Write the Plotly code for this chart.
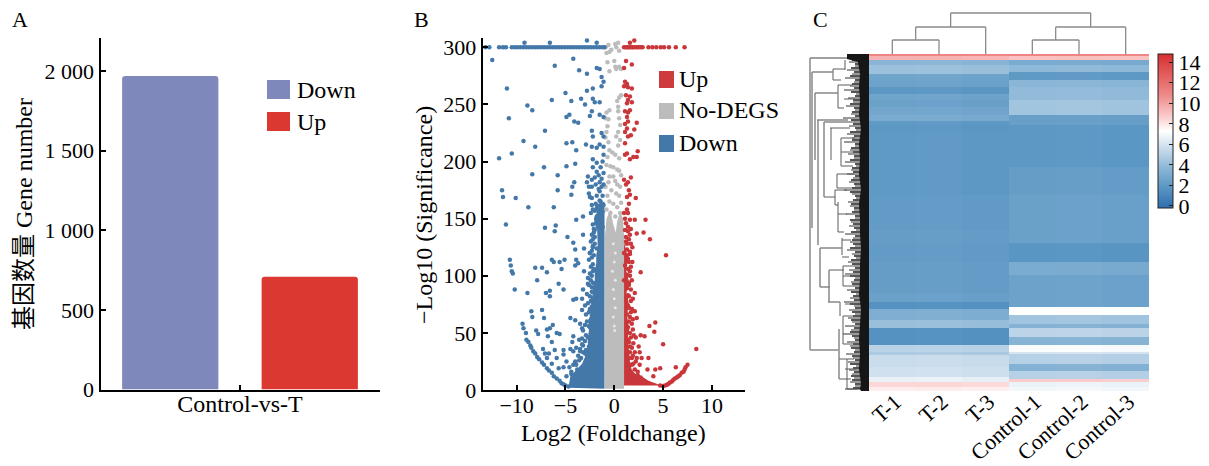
import plotly.graph_objects as go

W, H = 1209, 466
SERIF = "Liberation Serif, Noto Sans CJK SC, serif"
FS = 22
FT = 24

# ---------- Panel A ----------
bar_x = [0.5, 1.5]
bar_names = ["Down", "Up"]
bar_values = [1968, 708]
bar_colors = ["#7f88ba", "#dc3832"]
a_ytick_vals = [0, 500, 1000, 1500, 2000]
a_ytick_text = ["0", "500", "1 000", "1 500", "2 000"]

# ---------- Panel B: volcano ----------
top_down_x = [-13.2, -12.8, -11.8, -11.4, -11.1, -10.5, -10.2, -9.9, -9.6, -9.3, -9.0, -8.7, -8.4, -8.1, -7.8, -7.5,
              -7.2, -6.9, -6.6, -6.3, -6.0, -5.7, -5.4, -5.1, -4.8, -4.5, -4.2, -3.9, -3.6, -3.3, -3.0, -2.7, -2.4,
              -2.1, -1.8, -1.5, -1.2, -1.0]
top_up_x = [1.0, 1.2, 1.3, 1.5, 1.6, 1.8, 1.9, 2.1, 2.3, 2.5, 2.7, 2.9, 3.5, 3.9, 4.3, 4.75, 5.1, 5.6, 6.3, 7.2]
top_y = 300

down_x = [-9.2, -6.6, -2.8, -1.8, -12.5, -11.0, -6.1, -4.2, -3.6, -2.8, -1.8, -1.5, -1.3, -1.1, -1.3, -2.2, -2.8, -5.0, -6.4, -4.4, -3.4, -3.0, -2.2, -2.0, -1.5,
          -8.9, -8.4, -10.8, -4.9, -4.6, -4.1, -3.7, -2.3, -2.5, -1.5, -1.1, -7.1, -2.3, -2.2, -1.3, -1.1, -9.3, -8.1, -4.9, -4.3,
          -2.9, -3.9, -2.3, -1.5, -1.8, -1.1, -11.8, -10.5, -7.2, -4.9, -4.0, -2.2, -1.1, -8.4, -5.8, -2.7, -1.8, -1.1, -4.1, -4.3,
          -2.8, -1.5, -1.1, -2.3, -11.5, -5.8, -4.4, -1.5, -11.4, -10.1, -2.5, -1.5, -8.8, -6.2, -2.3, -1.8, -1.3, -2.2, -1.5, -3.9,
          -3.2, -1.8, -1.5, -11.1, -6.0, -7.1, -6.1,
          -4.8, -3.2, -4.2, -4.0, -3.1, -2.5, -2.2, -1.8, -10.7, -10.6, -10.5, -10.4, -10.2, -8.9, -8.1, -7.4, -6.9, -7.9, -6.4, -6.2,
          -5.6, -5.1, -5.4, -3.9, -4.0, -3.7, -3.1, -5.7, -5.2, -7.0, -6.6, -6.6, -8.5, -8.4, -7.4, -7.2, -3.2, -2.7, -2.3, -4.2, -3.9,
          -3.3, -3.0, -3.3, -4.5, -4.0, -3.5, -3.0, -2.5, -3.3, -6.3, -6.6, -6.9, -8.0, -7.8, -6.8, -6.4, -5.9, -5.6, -4.2, -4.3, -3.3,
          -3.2, -7.3, -7.1, -6.7, -6.1, -5.2, -4.5, -4.2, -3.5, -3.0, -6.9, -6.4, -5.9, -5.2, -4.9, -4.0, -3.9, -5.7, -5.2, -4.4, -4.9,
          -9.4, -9.3, -9.05, -9.0, -8.8, -8.6, -8.5, -8.3, -8.1, -7.9, -7.7, -7.4, -7.2, -6.9, -6.7, -6.4, -6.2, -5.9, -5.6, -5.4, -5.2, -5.0, -4.7]
down_y = [304, 304, 306, 304, 289, 264, 284, 290, 280, 277, 282, 281, 274, 270, 266, 264, 262, 260, 254, 253, 255, 250, 255, 252, 252,
          249, 245, 238, 239, 241, 235, 234, 244, 240, 241, 239, 227, 227, 222, 225, 222, 218, 213, 216, 217,
          215, 210, 213, 215, 212, 213, 203, 207, 195, 196, 198, 202, 206, 189, 188, 187, 191, 190, 182, 178,
          182, 182, 180, 178, 175, 175, 171, 174, 169, 168, 169, 166, 160, 160, 162, 159, 159, 158, 155, 149,
          152, 152, 149, 145, 144, 142, 139,
          134, 136, 129, 123, 124, 120, 125, 124, 114, 109, 104, 102, 88, 85, 107, 107, 103, 96, 114, 112,
          112, 114, 106, 114, 109, 111, 104, 93, 88, 85, 87, 82, 69, 64, 70, 63, 88, 93, 90, 79, 80,
          80, 74, 70, 63, 61, 58, 57, 55, 54, 57, 54, 53, 52, 49, 47, 42, 50, 49, 47, 42, 45,
          39, 36, 32, 32, 35, 35, 36, 34, 34, 32, 28, 23, 28, 31, 25, 25, 22, 19, 20, 16, 12,
          58, 54, 50, 44, 42, 39, 37, 34, 32, 29, 27, 24, 22, 19, 17, 15, 12, 10, 8, 6, 5, 4, 3]
down_edge_x = [-4.6, -4.2, -3.8, -4.4, -3.6, -3.4, -4.0, -3.7, -3.2, -2.9, -3.5, -3.1, -2.8, -3.9, -3.3, -2.6, -3.0, -2.7, -2.5, -2.9,
               -2.4, -3.2, -2.6, -3.6, -2.8, -2.4, -2.3, -2.6, -2.9, -2.5, -2.3, -2.7, -2.4, -2.2, -2.5, -2.8, -2.3, -2.6, -2.2, -2.4,
               -2.7, -2.3, -2.5, -2.2, -2.1, -2.4, -2.2, -2.6, -2.3, -2.1, -2.5, -2.3, -2.2, -2.0, -2.4, -2.2, -2.0, -2.3, -2.1, -2.0,
               -2.2, -1.9, -1.6, -1.3, -2.1, -1.7, -1.2, -2.4, -2.0, -1.6, -1.2, -1.9, -1.4, -1.1, -2.3, -1.8, -1.2, -2.6, -1.6, -1.9,
               -1.3, -2.3, -2.0, -1.6, -1.3, -2.6, -2.2, -1.4, -1.8, -1.2]
down_edge_y = [20, 22, 18, 14, 26, 28, 24, 30, 33, 35, 36, 15, 30, 37, 40, 38, 43, 46, 42, 48,
               50, 52, 56, 44, 60, 62, 65, 68, 66, 71, 73, 76, 78, 80, 82, 84, 86, 92, 94, 96,
               98, 100, 102, 104, 106, 108, 110, 114, 116, 118, 120, 122, 126, 128, 130, 132, 134, 136, 138, 140,
               145, 146, 147, 148, 141, 143, 143, 155, 157, 160, 156, 163, 165, 162, 168, 170, 170, 172, 176, 180,
               185, 184, 186, 188, 178, 178, 195, 195, 199, 200]

up_x = [1.6, 2.05, 1.2, 1.8, 1.0, 1.1, 1.3, 1.0, 1.8, 1.4, 1.2, 1.6, 1.4, 1.8, 1.3, 1.6, 1.1, 1.4, 1.3, 1.4, 2.3, 1.1, 1.3, 2.05,
        1.1, 1.4, 1.7, 1.1, 2.4, 1.95, 1.3, 1.6, 1.1, 2.3, 1.0, 1.7, 1.4, 1.2, 1.5, 1.6, 2.2, 1.3, 1.5, 1.3, 1.0, 1.4, 1.1, 1.6, 2.1,
        3.2, 1.2, 1.4, 2.3, 3.0, 3.65, 1.6, 1.2, 1.85, 1.3, 1.6, 1.0, 5.3, 1.4, 1.85, 1.1, 2.7, 1.6, 1.3, 1.0, 1.5, 1.3, 2.1, 1.4, 1.2,
        1.8, 2.1, 1.4, 2.3, 1.6, 1.3, 1.4, 1.9, 1.3, 4.2, 3.6, 4.1, 2.2, 2.7, 3.1, 1.4, 1.95, 5.0, 8.4, 2.5, 1.6, 2.1, 2.6, 2.8, 3.5,
        1.8, 1.95, 2.6, 1.6, 3.4, 4.2, 4.7, 6.3, 4.0,
        4.7, 5.0, 5.2, 5.4, 5.55, 5.7, 5.9, 6.05, 6.2, 6.4, 6.55, 6.7, 6.9, 7.1, 7.2, 7.3, 7.5,
        1.6, 2.0, 2.4, 2.7, 1.7, 2.1, 2.4, 1.8, 2.2, 1.5, 1.9, 2.3, 1.6, 1.8, 1.5, 1.7, 2.0, 1.6, 1.8, 1.5, 1.9, 1.7, 1.5, 1.7, 1.9,
        1.5, 1.7, 1.5, 1.8, 1.6, 1.4, 1.7, 1.5, 1.3, 1.6, 1.3, 1.5, 1.7, 1.2, 1.4, 1.1, 1.7]
up_y = [304, 306, 288, 285, 282, 270, 268, 266, 264, 265, 258, 257, 254, 252, 251, 245, 244, 243, 239, 235, 234, 233, 229, 228,
        226, 222, 223, 216, 209, 204, 207, 202, 206, 204, 184, 186, 182, 180, 175, 171, 168, 169, 163, 158, 155, 155, 150, 149, 149,
        149, 146, 143, 137, 138, 132, 136, 130, 125, 123, 121, 120, 118, 115, 112, 109, 103, 104, 101, 96, 94, 89, 85, 83, 80,
        71, 69, 74, 63, 64, 66, 55, 53, 53, 59, 56, 51, 46, 48, 47, 44, 41, 40, 36, 38, 38, 33, 33, 28, 28,
        28, 23, 22, 22, 18, 18, 19, 20, 12,
        4, 3.5, 4, 4.5, 5.5, 6.5, 7.5, 9, 10, 11, 12, 13, 15, 16, 18, 20, 22,
        10, 12, 13, 11, 16, 18, 16, 22, 25, 28, 30, 28, 33, 37, 42, 46, 48, 50, 58, 60, 62, 68, 72, 78, 80,
        82, 88, 92, 96, 100, 106, 108, 112, 118, 119, 128, 132, 128, 134, 139, 140, 141]

grey_x = [-0.8, -0.3, 0.2, 0.5, -0.5, 0.4, -0.9, 0.1, -0.6, -0.7, 0.0, 0.1, -0.5, 0.2, 0.7, 0.5, 0.5, 0.3, 0.7, 0.4, -0.8, -0.5, 0.4, -0.9,
          -0.6, 0.5, 0.6, -0.7, -0.8, 0.4, -0.9, 0.2, 0.6, -0.6, 0.4, -0.5, -0.2, 0.1, -0.7, 0.5, -0.8, -0.4, -0.1, 0.3, 0.5, 0.7, -0.5,
          -0.1, 0.1, -0.6, 0.3, -0.9, 0.6, -0.3, 0.2, -0.7, 0.5, -0.5, 0.7, -0.1, 0.3, -0.8, -0.4, 0.6, 0.1]
grey_y = [295, 298, 300, 297, 296, 304, 300, 303, 302, 287, 288, 283, 279, 281, 281, 283, 256, 253, 258, 248, 243, 245, 244, 238,
          237, 238, 232, 231, 226, 226, 221, 222, 219, 217, 214, 210, 208, 206, 204, 203, 197, 196, 195, 193, 192, 188, 187,
          187, 183, 182, 180, 178, 178, 175, 172, 170, 170, 165, 164, 163, 160, 158, 155, 155, 152]
pale_x = [-0.1, 0.1, 0.0, -0.2, 0.1, -0.1, 0.0, 0.1, -0.1, 0.0, 0.05]
pale_y = [128, 120, 112, 104, 96, 88, 80, 72, 64, 56, 52]

# outlines of the saturated regions of the volcano
down_fill_x = [-1.0, -4.7, -4.5, -3.9, -3.3, -3.0, -2.7, -2.7, -2.6, -2.6, -2.4, -2.4, -2.25, -2.2, -2.0, -2.0, -1.85, -1.85, -1.7, -1.75, -2.1, -1.8, -2.0, -1.0, -1.0]
down_fill_y = [1, 2, 12, 17.5, 23, 29, 38, 45, 52, 60, 67, 75, 82, 90, 96, 104, 111, 118, 125, 140, 150, 155, 162, 165, 1]
grey_fill_x = [-0.95, 1.0, 1.0, 0.9, 0.6, 0.3, 0.15, -0.1, -0.4, -0.8, -0.95, -0.95]
grey_fill_y = [1, 1, 135, 150, 156, 148, 138, 145, 158, 150, 135, 1]
up_fill_x = [1.0, 4.8, 4.2, 3.5, 3.0, 2.2, 1.8, 1.6, 1.5, 1.4, 1.5, 1.3, 1.5, 1.25, 1.5, 1.2, 1.4, 1.15, 1.0, 1.0]
up_fill_y = [4, 4, 6, 8, 11, 14, 17, 25, 35, 45, 55, 65, 75, 85, 95, 105, 115, 125, 130, 4]
b_xticks = [-10, -5, 0, 5, 10]
b_xtick_text = ["\u221210", "\u22125", "0", "5", "10"]
b_yticks = [0, 50, 100, 150, 200, 250, 300]

# ---------- Panel C: heatmap ----------
samples = ["T-1", "T-2", "T-3", "Control-1", "Control-2", "Control-3"]
row_edges = [0, 2, 6, 11, 18, 20, 26, 33, 40, 46, 53, 61, 67, 71, 79, 113, 141, 176, 189, 208, 221, 239, 248, 253, 255, 261,
             266, 270, 274, 283, 291, 298, 300, 301, 310, 313, 317, 323, 325, 328, 333, 337]
t_vals = [11.0, 9.5, 3.6, 4.2, 4.2, 2.6, 2.5, 1.9, 2.6, 2.4, 2.7, 3.0, 2.0, 1.9, 2.0, 2.0, 2.1, 2.2, 2.1, 2.2, 2.2, 2.4, 1.6, 1.6,
          3.2, 3.2, 4.1, 4.1, 1.6, 1.6, 5.1, 4.7, 4.7, 5.6, 5.6, 5.8, 5.8, 6.6, 6.6, 8.4, 7.8]
c_vals = [11.0, 9.0, 3.0, 3.8, 2.0, 2.0, 3.6, 3.9, 3.9, 4.4, 4.4, 2.3, 2.3, 1.9, 1.9, 2.2, 2.4, 2.4, 1.8, 3.0, 2.5, 2.5, 2.5, 7.3,
          7.3, 4.4, 4.4, 3.4, 5.2, 3.5, 7.1, 6.0, 5.0, 5.0, 3.4, 3.4, 5.0, 5.0, 8.7, 6.7, 6.9]
column_shift = [0.0, 0.05, -0.08, 0.0, 0.05, -0.05]
heat_stops = [[0, "#2f6daf"], [0.133, "#5a96c3"], [0.267, "#8fb9d8"], [0.4, "#d0e0ee"], [0.5, "#ffffff"],
              [0.6, "#fbc8c8"], [0.733, "#ee8a8a"], [1, "#d82f2f"]]
cbar_ticks = [0, 2, 4, 6, 8, 10, 12, 14]

# column dendrogram: (x0, h0, x1, h1) in column index / height units
col_dend = [(0, 0, 0, 14), (1, 0, 1, 14), (0, 14, 1, 14), (0.5, 14, 0.5, 27), (2, 0, 2, 27), (0.5, 27, 2, 27),
            (1.25, 27, 1.25, 41), (3, 0, 3, 14), (4, 0, 4, 14), (3, 14, 4, 14), (3.5, 14, 3.5, 27), (5, 0, 5, 27),
            (3.5, 27, 5, 27), (4.25, 27, 4.25, 41), (1.25, 41, 4.25, 41)]

# row dendrogram: (d0, r0, d1, r1) distance from leaves / row units
row_dend_major = [(59, 4, 22, 4), (59, 4, 59, 296), (59, 296, 31, 296), (57, 18, 36, 18), (57, 18, 57, 174), (54, 39, 31, 39),
                  (54, 39, 54, 106), (52, 66, 21, 66), (51, 66, 51, 191), (45, 68, 14, 68), (45, 68, 45, 143), (49, 194, 27, 194),
                  (49, 194, 49, 233), (49, 233, 39, 233), (40, 216, 40, 248), (41, 248, 29, 248), (30, 275, 30, 325)]
row_dend_minor = [(39, 74, 19, 74), (38, 74, 38, 106), (36, 15, 24, 15), (36, 26, 28, 26), (36, 15, 36, 26), (31, 31, 17, 31),
                  (31, 54, 25, 54), (31, 31, 31, 54), (24, 6, 24, 16), (45, 143, 34, 143), (34, 136, 34, 151), (34, 136, 22, 136),
                  (34, 151, 31, 151), (31, 148, 31, 178), (31, 178, 25, 178), (31, 160, 22, 160), (27, 184, 27, 201),
                  (27, 186, 18, 186), (27, 203, 20, 203), (40, 216, 25, 216), (26, 262, 26, 290), (26, 262, 12, 262),
                  (26, 290, 14, 290), (30, 325, 18, 325), (30, 305, 15, 305), (22, 305, 22, 335), (24, 250, 12, 250),
                  (29, 248, 29, 262), (28, 98, 15, 98), (28, 84, 28, 112), (28, 84, 14, 84), (28, 112, 16, 112),
                  (32, 120, 32, 134), (32, 120, 15, 120), (32, 134, 17, 134), (26, 222, 14, 222), (26, 212, 26, 232),
                  (26, 212, 15, 212), (26, 232, 16, 232), (25, 45, 14, 45), (24, 315, 13, 315), (22, 335, 12, 335)]
leaf_rows = [4, 8, 12, 16, 20, 24, 28, 32, 36, 40, 44, 48, 52, 56, 60, 64, 68, 72, 76, 80, 84, 88, 92, 96, 100, 104, 108, 112,
             116, 120, 124, 128, 132, 136, 140, 144, 148, 152, 156, 160, 164, 168, 172, 176, 180, 184, 188, 192, 196, 200, 204,
             208, 212, 216, 220, 224, 228, 232, 236, 240, 244, 248, 252, 256, 260, 264, 268, 272, 276, 280, 284, 288, 292, 296,
             300, 304, 308, 312, 316, 320, 324, 328, 332, 335]
leaf_lengths = [22, 20, 14, 22, 17, 24, 15, 19, 25, 13, 21, 16, 23, 14, 18, 26, 15, 20, 13, 22, 17, 25, 14, 19, 21, 15, 24, 13,
                18, 22, 16, 20, 14, 25, 17, 13, 21, 19, 15, 23, 14, 18, 20, 13, 24, 16, 19, 14, 22, 17, 13, 21, 15, 20, 24, 14,
                18, 16, 22, 13, 19, 25, 15, 20, 14, 21, 17, 24, 18, 26, 15, 22, 19, 14, 23, 16, 21, 13, 20, 17, 15, 19, 14, 24]
fine_rows = [6, 10, 14, 18, 22, 26, 30, 34, 38, 42, 46, 50, 54, 58, 62, 66, 70, 74, 78, 82, 86, 90, 94, 98, 102, 106, 110, 114,
             118, 122, 126, 130, 134, 138, 142, 146, 150, 154, 158, 162, 166, 170, 174, 178, 182, 186, 190, 194, 198, 202, 206,
             210, 214, 218, 222, 226, 230, 234, 238, 242, 246, 250, 254, 258, 262, 266, 270, 274, 278, 282, 286, 290, 294, 298,
             302, 306, 310, 314, 318, 322, 326, 330, 334]
fine_lengths = [17, 14, 18, 15, 19, 14, 17, 15, 18, 14, 16, 19, 15, 17, 14, 18, 16, 14, 19, 15, 17, 14, 18, 16, 15, 19, 14, 17,
                16, 14, 18, 15, 17, 19, 14, 16, 18, 15, 17, 14, 19, 16, 15, 18, 14, 17, 16, 19, 14, 15, 18, 17, 14, 16, 19, 15,
                17, 14, 18, 16, 15, 19, 14, 17, 16, 18, 14, 15, 19, 17, 14, 16, 18, 15, 17, 14, 19, 16, 15, 18, 17, 14, 16]
dense_edge_d = [22, 22, 11, 9, 10, 9, 10, 8, 10, 9, 10, 8, 10, 9, 9, 8, 9, 9, 10, 8, 9, 10, 9, 10, 8, 9, 8]
dense_edge_r = [0, 5, 8, 20, 33, 46, 60, 75, 90, 105, 120, 135, 150, 165, 180, 195, 210, 225, 240, 255, 270, 285, 300, 315, 330, 335, 337]

A_X = (100.5, 379.5); A_Y = (38, 389.5)
B_X = (482.7, 745); B_Y = (38, 390)
C_X = (869, 1149); C_Y = (54, 391)
T_Y = (10, 54)
L_X = (805, 869)


def xdom(p):
    return [p[0] / W, p[1] / W]


def ydom(p):
    return [1 - p[1] / H, 1 - p[0] / H]


def segs(items):
    xs, ys = [], []
    for a, b, c, d in items:
        xs += [a, c, None]
        ys += [b, d, None]
    return xs, ys


fig = go.Figure()

# A
fig.add_trace(go.Bar(x=bar_x, y=bar_values, width=0.69, marker=dict(color=bar_colors, line=dict(width=0)),
                     xaxis="x", yaxis="y", showlegend=False))

# B
def dots(x, y, color, size=4.5):
    fig.add_trace(go.Scatter(x=x, y=y, mode="markers", xaxis="x2", yaxis="y2", showlegend=False,
                             marker=dict(color=color, size=size, line=dict(width=0))))


def region(x, y, color):
    fig.add_trace(go.Scatter(x=x, y=y, mode="lines", fill="toself", fillcolor=color, xaxis="x2", yaxis="y2",
                             line=dict(width=0, color=color), showlegend=False, hoverinfo="skip"))


BLUE, RED, GREY = "#4478a9", "#c9373b", "#bcbcbc"
region(grey_fill_x, grey_fill_y, GREY)
region(down_fill_x, down_fill_y, BLUE)
region(up_fill_x, up_fill_y, RED)
dots(grey_x, grey_y, GREY)
dots(pale_x, pale_y, "#e6e6e6", 3)
dots(down_x, down_y, BLUE)
dots(down_edge_x, down_edge_y, BLUE)
dots(up_x, up_y, RED)
dots(top_down_x, [top_y] * len(top_down_x), BLUE)
dots(top_up_x, [top_y] * len(top_up_x), RED)

# C heatmap
z = []
for tv, cv in zip(t_vals, c_vals):
    base = [tv, tv, tv, cv, cv, cv]
    z.append([b + s for b, s in zip(base, column_shift)])
fig.add_trace(go.Heatmap(x=list(range(6)), y=row_edges, z=z, zmin=-0.2, zmax=14.8, colorscale=heat_stops, xaxis="x3", yaxis="y3",
                         colorbar=dict(thickness=15, thicknessmode="pixels", len=154 / H, lenmode="fraction", x=1158 / W,
                                       xanchor="left", y=1 - 54 / H, yanchor="top", xpad=0, ypad=0, outlinecolor="#222",
                                       outlinewidth=1, tickvals=cbar_ticks, ticks="inside", ticklen=4, tickcolor="#222",
                                       tickfont=dict(family=SERIF, size=FS, color="black"))))

# dendrograms
xs, ys = segs(col_dend)
fig.add_trace(go.Scatter(x=xs, y=ys, mode="lines", xaxis="x4", yaxis="y4", showlegend=False, hoverinfo="skip",
                         line=dict(color="#8a8a8a", width=1.3)))
xs, ys = segs([(d, r, 0, r) for d, r in zip(leaf_lengths, leaf_rows)])
fig.add_trace(go.Scatter(x=xs, y=ys, mode="lines", xaxis="x5", yaxis="y5", showlegend=False, hoverinfo="skip",
                         line=dict(color="#555555", width=1.2)))
xs, ys = segs([(d, r, 0, r) for d, r in zip(fine_lengths, fine_rows)])
fig.add_trace(go.Scatter(x=xs, y=ys, mode="lines", xaxis="x5", yaxis="y5", showlegend=False, hoverinfo="skip",
                         line=dict(color="#2a2a2a", width=1.6)))
xs, ys = segs(row_dend_minor)
fig.add_trace(go.Scatter(x=xs, y=ys, mode="lines", xaxis="x5", yaxis="y5", showlegend=False, hoverinfo="skip",
                         line=dict(color="#5c5c5c", width=1)))
xs, ys = segs(row_dend_major)
fig.add_trace(go.Scatter(x=xs, y=ys, mode="lines", xaxis="x5", yaxis="y5", showlegend=False, hoverinfo="skip",
                         line=dict(color="#808080", width=1.4)))
fig.add_trace(go.Scatter(x=dense_edge_d + [0, 0], y=dense_edge_r + [337, 0], mode="lines", fill="toself", fillcolor="#161616",
                         line=dict(width=0), xaxis="x5", yaxis="y5", showlegend=False, hoverinfo="skip"))

font = dict(family=SERIF, size=FS, color="black")
tfont = dict(family=SERIF, size=FT, color="black")
axis_common = dict(showgrid=False, zeroline=False, showline=True, linecolor="black", linewidth=2, ticks="inside",
                   ticklen=5, tickwidth=1.5, tickcolor="black", tickfont=font, automargin=False)
hidden = dict(visible=False, showgrid=False, zeroline=False, automargin=False)

annotations = []


def label(x, y, text, size=FT, anchor="left", angle=0):
    annotations.append(dict(x=x / W, y=1 - y / H, xref="paper", yref="paper", text=text, showarrow=False, xanchor=anchor,
                            yanchor="middle", textangle=angle, font=dict(family=SERIF, size=size, color="black")))


label(10, 20, "A", FS); label(412, 20, "B", FS); label(811, 20, "C", FS)
label(24, 214, "基因数量 Gene number", FT, "center", -90)
label(424, 215, "\u2212Log10 (Significance)", FT, "center", -90)
label(613, 433, "Log2 (Foldchange)", FT, "center")
shapes = []


def swatch(x0, x1, y0, y1, color, text, tx, dy):
    shapes.append(dict(type="rect", xref="paper", yref="paper", x0=x0 / W, x1=x1 / W, y0=1 - y0 / H, y1=1 - y1 / H,
                       fillcolor=color, line=dict(width=0)))
    label(tx, (y0 + y1) / 2 + dy, text)


swatch(267, 290, 80, 99, bar_colors[0], "Down", 295, 1)
swatch(267, 290, 112, 131, bar_colors[1], "Up", 295, 0)
swatch(659, 674, 71, 88, "#cf3a3c", "Up", 677, -1)
swatch(659, 674, 103, 119, GREY, "No-DEGS", 677, -1)
swatch(659, 674, 135, 152, BLUE, "Down", 677, -1)

fig.update_layout(
    width=W, height=H, margin=dict(l=0, r=0, t=0, b=0), autosize=False,
    paper_bgcolor="white", plot_bgcolor="rgba(0,0,0,0)", showlegend=False, barcornerradius=3,
    font=dict(family=SERIF, size=FS, color="black"), annotations=annotations, shapes=shapes,
    xaxis=dict(domain=xdom(A_X), range=[0, 2], tickvals=[0, 1, 2], ticktext=["", "Control-vs-T", ""], ticklabelstandoff=-8,
               **{**axis_common, "tickfont": tfont}),
    yaxis=dict(domain=ydom(A_Y), anchor="x", range=[0, 2207], tickvals=a_ytick_vals, ticktext=a_ytick_text, **axis_common),
    xaxis2=dict(domain=xdom(B_X), anchor="y2", range=[-13.48, 13.39], tickvals=b_xticks, ticktext=b_xtick_text, ticklabelstandoff=-5,
                **axis_common),
    yaxis2=dict(domain=ydom(B_Y), anchor="x2", range=[0, 308.2], tickvals=b_yticks, **axis_common),
    xaxis3=dict(domain=xdom(C_X), anchor="y3", range=[-0.5, 5.5], showgrid=False, zeroline=False, showline=False, ticks="",
                tickvals=list(range(6)), ticktext=samples, tickangle=-42, tickfont=font, automargin=False,
                ticklabelstandoff=-7, ticklabelshift=3),
    yaxis3=dict(domain=ydom(C_Y), anchor="x3", range=[337, 0], **hidden),
    xaxis4=dict(domain=xdom(C_X), anchor="y4", range=[-0.5, 5.5], **hidden),
    yaxis4=dict(domain=ydom(T_Y), anchor="x4", range=[0, 44], **hidden),
    xaxis5=dict(domain=xdom(L_X), anchor="y5", range=[64, 0], **hidden),
    yaxis5=dict(domain=ydom(C_Y), anchor="x5", range=[337, 0], **hidden),
)

fig.write_html("out.html", post_script="document.body.style.margin='0';", config={"displayModeBar": False})
